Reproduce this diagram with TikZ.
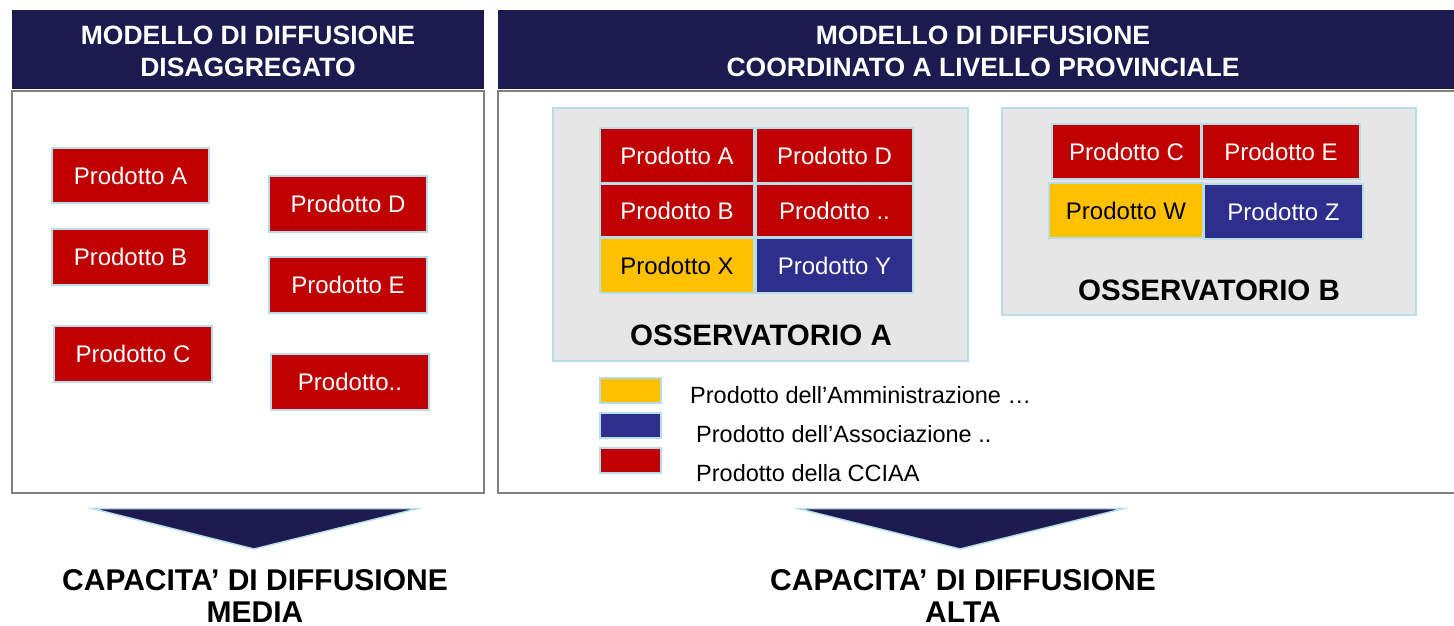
\documentclass[tikz,border=0pt]{standalone}
\usepackage{fontspec}
\setmainfont{Liberation Sans}
\definecolor{navy}{RGB}{28,27,80}
\definecolor{pred}{RGB}{192,0,0}
\definecolor{pyel}{RGB}{255,192,0}
\definecolor{pblue}{RGB}{46,46,140}
\definecolor{edgeblue}{RGB}{183,222,232}
\definecolor{panelgray}{RGB}{128,128,128}
\definecolor{obsgray}{RGB}{230,230,230}
\begin{document}
\begin{tikzpicture}[x=1pt,y=-1pt,
  hdr/.style={fill=navy, draw=none, inner sep=0pt},
  hdrtxt/.style={text=white, align=center, inner sep=0pt,
    font=\fontsize{26.5}{32}\selectfont\bfseries},
  panel/.style={draw=panelgray, line width=2pt, fill=white, inner sep=0pt},
  obs/.style={draw=edgeblue, line width=2pt, fill=obsgray, inner sep=0pt},
  prod/.style={draw=edgeblue, line width=2pt, inner sep=0pt, text=white,
    font=\fontsize{24}{26}\selectfont},
  redp/.style={prod, fill=pred},
  yelp/.style={prod, fill=pyel, text=black},
  bluep/.style={prod, fill=pblue},
  legsq/.style={draw=edgeblue, line width=2pt, inner sep=0pt, minimum width=61pt, minimum height=25pt},
  legtxt/.style={anchor=west, inner sep=0pt, font=\fontsize{23.5}{26}\selectfont},
  obslbl/.style={inner sep=0pt, font=\fontsize{29.5}{32}\selectfont\bfseries},
  arr/.style={fill=navy, draw=edgeblue, line width=1.5pt, line join=miter},
  captxt/.style={align=center, inner sep=0pt, font=\fontsize{30}{32}\selectfont\bfseries}
]
\useasboundingbox (0,0) rectangle (1454,625);

% headers
\node[hdr, minimum width=472pt, minimum height=79pt] (hl) at (248,49.5) {};
\node[hdrtxt] (hlt) at (248,51.5) {MODELLO DI DIFFUSIONE\\DISAGGREGATO};
\node[hdr, minimum width=960pt, minimum height=79pt] (hr) at (978,49.5) {};
\node[hdrtxt] (hrt) at (983,51.5) {MODELLO DI DIFFUSIONE\\COORDINATO A LIVELLO PROVINCIALE};

% panels
\node[panel, minimum width=472pt, minimum height=402pt] (pl) at (248,292) {};
\node[panel, minimum width=966pt, minimum height=402pt] (pr) at (981,292) {};

% left products
\node[redp, minimum width=157pt, minimum height=55pt] (la) at (130.5,175.5) {Prodotto A};
\node[redp, minimum width=157pt, minimum height=56pt] (lb) at (130.5,257) {Prodotto B};
\node[redp, minimum width=158pt, minimum height=56pt] (lc) at (133,354) {Prodotto C};
\node[redp, minimum width=158pt, minimum height=56pt] (ld) at (348,204) {Prodotto D};
\node[redp, minimum width=158pt, minimum height=56pt] (le) at (348,285) {Prodotto E};
\node[redp, minimum width=158pt, minimum height=56pt] (lx) at (350,382) {Prodotto..};

% observatorio A
\node[obs, minimum width=415pt, minimum height=253pt] (oa) at (760.5,234.5) {};
\node[redp, minimum width=154pt, minimum height=55pt] (aa) at (677,155.5) {Prodotto A};
\node[redp, minimum width=157pt, minimum height=55pt] (ad) at (834.5,155.5) {Prodotto D};
\node[redp, minimum width=154pt, minimum height=53pt] (ab) at (677,210.5) {Prodotto B};
\node[redp, minimum width=157pt, minimum height=53pt] (ax) at (834.5,210.5) {Prodotto ..};
\node[yelp, minimum width=154pt, minimum height=55pt] (ay) at (677,265.5) {Prodotto X};
\node[bluep, minimum width=157pt, minimum height=55pt] (az) at (834.5,265.5) {Prodotto Y};
\node[obslbl] (oal) at (761,335) {OSSERVATORIO A};

% observatorio B
\node[obs, minimum width=414pt, minimum height=207pt] (ob) at (1209,211.5) {};
\node[redp, minimum width=149pt, minimum height=55pt] (bc) at (1126.5,151.5) {Prodotto C};
\node[redp, minimum width=158pt, minimum height=55pt] (be) at (1281,151.5) {Prodotto E};
\node[yelp, minimum width=154pt, minimum height=55pt] (bw) at (1126,210.5) {Prodotto W};
\node[bluep, minimum width=159pt, minimum height=55pt] (bz) at (1283.5,211.5) {Prodotto Z};
\node[obslbl] (obl) at (1209,290) {OSSERVATORIO B};

% legend
\node[legsq, fill=pyel] (ly) at (630.5,390.5) {};
\node[legsq, fill=pblue] (lbq) at (630.5,425.5) {};
\node[legsq, fill=pred] (lr) at (630.5,460.5) {};
\node[legtxt] (lyt) at (690,395) {Prodotto dell’Amministrazione …};
\node[legtxt] (lbt) at (696,434) {Prodotto dell’Associazione ..};
\node[legtxt] (lrt) at (696,473) {Prodotto della CCIAA};

% arrows
\draw[arr] (92,508.5) -- (418,508.5) -- (254,549) -- cycle;
\draw[arr] (798,508.5) -- (1124,508.5) -- (960,549) -- cycle;

% capacity labels
\node[captxt] (cl) at (255,596) {CAPACITA’ DI DIFFUSIONE\\MEDIA};
\node[captxt] (cr) at (963,596) {CAPACITA’ DI DIFFUSIONE\\ALTA};
\end{tikzpicture}
\end{document}
